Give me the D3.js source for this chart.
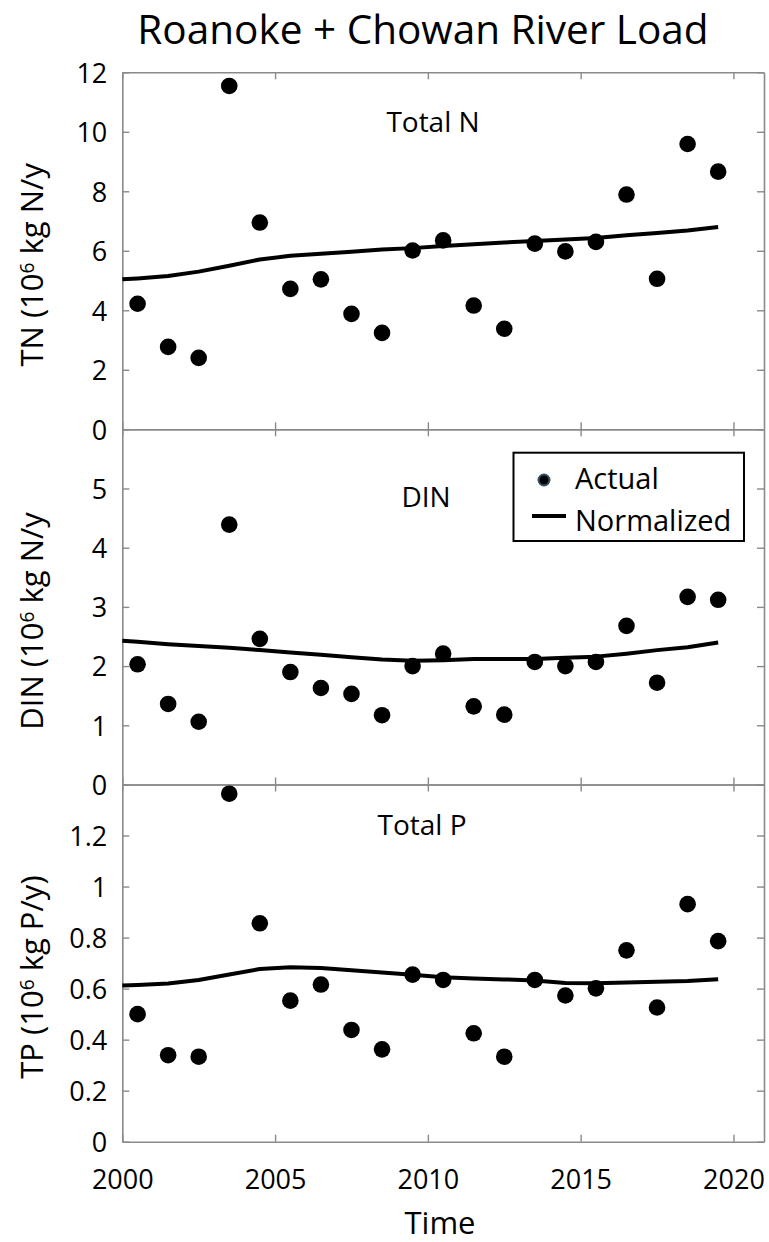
<!DOCTYPE html>
<html>
<head>
<meta charset="utf-8">
<script src="https://cdn.jsdelivr.net/npm/d3@7"></script>
<style>
  html, body { margin: 0; padding: 0; background: #fff; }
  svg { display: block; font-family: "Open Sans", "Noto Sans", sans-serif; }
</style>
</head>
<body>
<svg id="chart" width="769" height="1242"></svg>
<script>
// Annual loads (10^6 kg/y), sampled mid-year
const years = [2000.5, 2001.5, 2002.5, 2003.5, 2004.5, 2005.5, 2006.5, 2007.5, 2008.5, 2009.5,
               2010.5, 2011.5, 2012.5, 2013.5, 2014.5, 2015.5, 2016.5, 2017.5, 2018.5, 2019.5];
const tnActual  = [4.22, 2.77, 2.40, 11.54, 6.95, 4.72, 5.04, 3.88, 3.24, 6.01,
                   6.35, 4.16, 3.38, 6.24, 5.98, 6.30, 7.89, 5.06, 9.59, 8.66];
const dinActual = [2.03, 1.36, 1.06, 4.39, 2.46, 1.90, 1.63, 1.53, 1.17, 2.00,
                   2.21, 1.32, 1.18, 2.07, 2.00, 2.07, 2.68, 1.72, 3.17, 3.12];
const tpActual  = [0.500, 0.339, 0.333, 1.364, 0.856, 0.553, 0.616, 0.438, 0.362, 0.655,
                   0.634, 0.425, 0.333, 0.634, 0.573, 0.601, 0.750, 0.526, 0.931, 0.786];

// Flow-normalized loads
const normYears = [2000, 2000.5, 2001.5, 2002.5, 2003.5, 2004.5, 2005.5, 2006.5, 2007.5, 2008.5, 2009.5,
                   2010.5, 2011.5, 2012.5, 2013.5, 2014.5, 2015.5, 2016.5, 2017.5, 2018.5, 2019.5];
const tnNorm  = [5.04, 5.07, 5.15, 5.30, 5.50, 5.71, 5.83, 5.90, 5.97, 6.04, 6.09,
                 6.16, 6.22, 6.28, 6.33, 6.38, 6.43, 6.52, 6.60, 6.68, 6.80];
const dinNorm = [2.43, 2.41, 2.37, 2.34, 2.31, 2.27, 2.23, 2.19, 2.15, 2.11, 2.09,
                 2.10, 2.12, 2.12, 2.12, 2.14, 2.16, 2.21, 2.27, 2.32, 2.40];
const tpNorm  = [0.612, 0.614, 0.620, 0.634, 0.655, 0.677, 0.684, 0.681, 0.672, 0.663, 0.654,
                 0.645, 0.640, 0.636, 0.632, 0.622, 0.621, 0.624, 0.627, 0.630, 0.637];

// Axis ticks and labels
const xTicks = [2000, 2005, 2010, 2015, 2020];
const xTickLabels = ["2000", "2005", "2010", "2015", "2020"];
const tnTicks  = [0, 2, 4, 6, 8, 10, 12];
const tnTickLabels = ["0", "2", "4", "6", "8", "10", "12"];
const dinTicks = [0, 1, 2, 3, 4, 5];
const dinTickLabels = ["0", "1", "2", "3", "4", "5"];
const tpTicks  = [0, 0.2, 0.4, 0.6, 0.8, 1.0, 1.2];
const tpTickLabels = ["0", "0.2", "0.4", "0.6", "0.8", "1", "1.2"];

const panelNames = ["Total N", "DIN", "Total P"];
const yLabelHeads = ["TN (10", "DIN (10", "TP (10"];
const yLabelTails = [" kg N/y", " kg N/y", " kg P/y)"];
const legendLabels = ["Actual", "Normalized"];

const svg = d3.select("#chart");
const plotLeft = 122.3, plotRight = 764;
const axisColor = "#8a8a8a";

const x = d3.scaleLinear().domain([2000, 2021]).range([plotLeft, plotRight]);

const panels = [
  { top: 72.3,  bottom: 429.3,  max: 12,  ticks: tnTicks,  labels: tnTickLabels,  actual: tnActual,  norm: tnNorm,  nameX: 433, nameY: 131.5 },
  { top: 429.3, bottom: 784.5,  max: 6,   ticks: dinTicks, labels: dinTickLabels, actual: dinActual, norm: dinNorm, nameX: 426, nameY: 506.5 },
  { top: 784.5, bottom: 1141.7, max: 1.4, ticks: tpTicks,  labels: tpTickLabels,  actual: tpActual,  norm: tpNorm,  nameX: 422, nameY: 835 }
];

// Title
svg.append("text")
  .attr("x", 423).attr("y", 44)
  .attr("text-anchor", "middle")
  .attr("font-size", 40.5)
  .attr("fill", "#000")
  .text("Roanoke + Chowan River Load");

panels.forEach((p, i) => {
  const y = d3.scaleLinear().domain([0, p.max]).range([p.bottom, p.top]);
  const g = svg.append("g");

  const styleAxis = sel => {
    sel.selectAll("path.domain").attr("stroke", axisColor).attr("stroke-width", 1.6);
    sel.selectAll(".tick line").attr("stroke", axisColor).attr("stroke-width", 1.4);
    sel.selectAll(".tick text").attr("fill", "#000").attr("font-family", "Open Sans, sans-serif");
  };

  // Left axis with labels, ticks pointing inward
  const labelOf = d => p.labels[p.ticks.indexOf(d)];
  g.append("g")
    .attr("transform", `translate(${plotLeft},0)`)
    .call(d3.axisLeft(y).tickValues(p.ticks).tickFormat(labelOf)
      .tickSizeInner(-7).tickSizeOuter(0).tickPadding(15))
    .call(styleAxis)
    .call(s => s.selectAll(".tick text").attr("font-size", 27).attr("dy", "0.36em"));

  // Right axis (mirrored ticks)
  g.append("g")
    .attr("transform", `translate(${plotRight},0)`)
    .call(d3.axisRight(y).tickValues(p.ticks).tickFormat("")
      .tickSizeInner(-7).tickSizeOuter(0))
    .call(styleAxis);

  // Top axis (mirrored ticks)
  g.append("g")
    .attr("transform", `translate(0,${p.top})`)
    .call(d3.axisTop(x).tickValues(xTicks).tickFormat("")
      .tickSizeInner(-7).tickSizeOuter(0))
    .call(styleAxis);

  // Bottom axis, year labels only on the last panel
  const last = i === panels.length - 1;
  g.append("g")
    .attr("transform", `translate(0,${p.bottom})`)
    .call(d3.axisBottom(x).tickValues(xTicks)
      .tickFormat(last ? (d => xTickLabels[xTicks.indexOf(d)]) : "")
      .tickSizeInner(-7).tickSizeOuter(0).tickPadding(28))
    .call(styleAxis)
    .call(s => s.selectAll(".tick text").attr("font-size", 27).attr("dy", "0.71em"));

  // Normalized line
  const line = d3.line().x((d, k) => x(normYears[k])).y(d => y(d));
  g.append("path")
    .datum(p.norm)
    .attr("d", line)
    .attr("fill", "none")
    .attr("stroke", "#000")
    .attr("stroke-width", 4)
    .attr("stroke-linejoin", "round");

  // Actual annual loads
  g.selectAll("circle.pt")
    .data(p.actual)
    .join("circle")
    .attr("class", "pt")
    .attr("cx", (d, k) => x(years[k]))
    .attr("cy", d => y(d))
    .attr("r", 8.3)
    .attr("fill", "#000");

  // Panel name
  g.append("text")
    .attr("x", p.nameX).attr("y", p.nameY)
    .attr("text-anchor", "middle")
    .attr("font-size", 28)
    .attr("fill", "#000")
    .text(panelNames[i]);

  // Y-axis label with superscript exponent
  const cy = (p.top + p.bottom) / 2 + 14;
  const t = svg.append("text")
    .attr("transform", `translate(43,${cy}) rotate(-90)`)
    .attr("text-anchor", "middle")
    .attr("font-size", 31)
    .attr("fill", "#000");
  t.append("tspan").text(yLabelHeads[i]);
  t.append("tspan").attr("dy", "-0.45em").attr("font-size", "0.62em").text("6");
  t.append("tspan").attr("dy", "0.28em").text(yLabelTails[i]);
});

// X-axis title
svg.append("text")
  .attr("x", 440).attr("y", 1234)
  .attr("text-anchor", "middle")
  .attr("font-size", 31)
  .attr("fill", "#000")
  .text("Time");

// Legend in the DIN panel
const lg = svg.append("g");
lg.append("rect")
  .attr("x", 513.5).attr("y", 452.7)
  .attr("width", 230.5).attr("height", 88.3)
  .attr("fill", "#fff")
  .attr("stroke", "#000")
  .attr("stroke-width", 2);
lg.append("circle")
  .attr("cx", 544).attr("cy", 480)
  .attr("r", 5.5)
  .attr("fill", "#000")
  .attr("stroke", "#34506e")
  .attr("stroke-width", 2);
lg.append("line")
  .attr("x1", 532).attr("x2", 566)
  .attr("y1", 516).attr("y2", 516)
  .attr("stroke", "#000")
  .attr("stroke-width", 4);
lg.selectAll("text.lab")
  .data(legendLabels)
  .join("text")
  .attr("class", "lab")
  .attr("x", 575)
  .attr("y", (d, k) => k === 0 ? 488.5 : 531)
  .attr("font-size", 29)
  .attr("fill", "#000")
  .text(d => d);
</script>
</body>
</html>
